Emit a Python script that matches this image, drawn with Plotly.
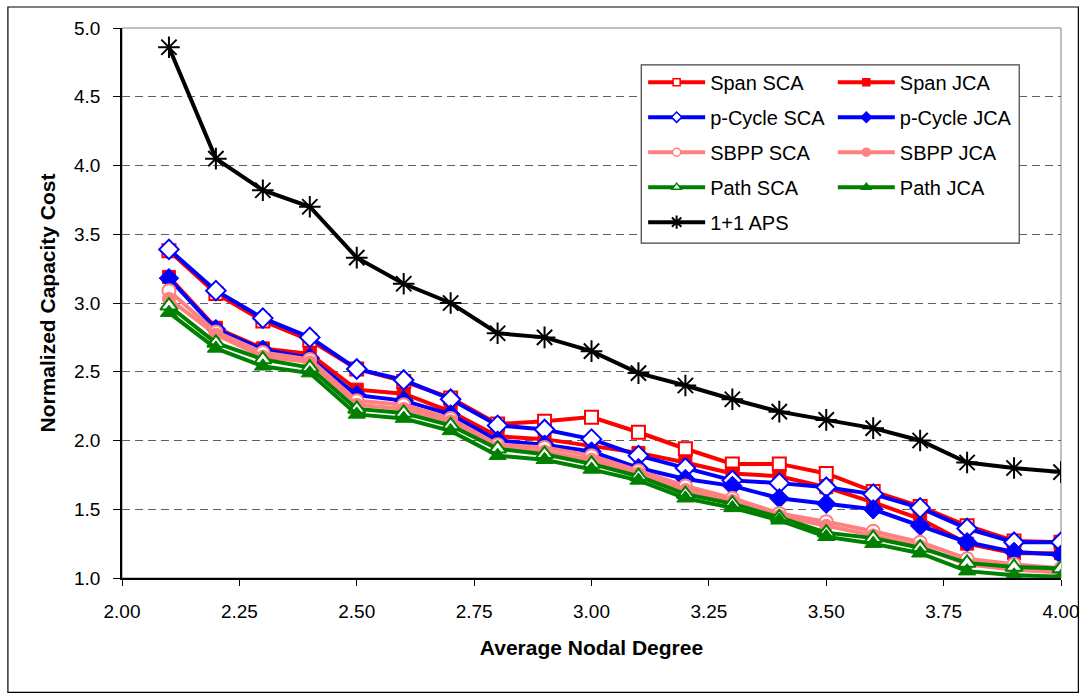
import plotly.graph_objects as go

x_degree = [2.1, 2.2, 2.3, 2.4, 2.5, 2.6, 2.7, 2.8, 2.9, 3.0,
            3.1, 3.2, 3.3, 3.4, 3.5, 3.6, 3.7, 3.8, 3.9, 4.0]

span_sca = [3.38, 3.07, 2.87, 2.73, 2.52, 2.43, 2.31, 2.12, 2.14, 2.17,
            2.06, 1.94, 1.83, 1.83, 1.76, 1.63, 1.52, 1.38, 1.27, 1.26]
span_jca = [3.19, 2.82, 2.67, 2.63, 2.37, 2.34, 2.21, 2.03, 2.01, 1.96,
            1.91, 1.84, 1.76, 1.74, 1.66, 1.55, 1.43, 1.25, 1.18, 1.18]
pcycle_sca = [3.39, 3.09, 2.89, 2.75, 2.52, 2.44, 2.30, 2.11, 2.08, 2.01,
              1.89, 1.80, 1.71, 1.69, 1.66, 1.61, 1.51, 1.36, 1.26, 1.26]
pcycle_jca = [3.18, 2.81, 2.66, 2.60, 2.33, 2.29, 2.19, 2.00, 1.97, 1.92,
              1.80, 1.72, 1.67, 1.58, 1.54, 1.50, 1.38, 1.26, 1.19, 1.17]
sbpp_sca = [3.09, 2.79, 2.64, 2.59, 2.29, 2.26, 2.16, 1.97, 1.95, 1.89,
            1.78, 1.67, 1.58, 1.47, 1.41, 1.34, 1.26, 1.14, 1.10, 1.07]
sbpp_jca = [3.03, 2.77, 2.61, 2.57, 2.26, 2.23, 2.14, 1.95, 1.92, 1.86,
            1.76, 1.64, 1.56, 1.45, 1.38, 1.31, 1.23, 1.10, 1.06, 1.04]
path_sca = [2.98, 2.71, 2.59, 2.53, 2.23, 2.20, 2.11, 1.94, 1.90, 1.83,
            1.74, 1.61, 1.54, 1.44, 1.33, 1.29, 1.22, 1.11, 1.08, 1.07]
path_jca = [2.93, 2.67, 2.54, 2.49, 2.19, 2.16, 2.07, 1.89, 1.86, 1.79,
            1.71, 1.58, 1.51, 1.42, 1.30, 1.25, 1.18, 1.05, 1.02, 1.01]
aps = [4.86, 4.05, 3.82, 3.70, 3.33, 3.14, 3.00, 2.78, 2.75, 2.65,
       2.49, 2.40, 2.30, 2.21, 2.15, 2.09, 2.00, 1.84, 1.80, 1.77]

x_ticks = [2.00, 2.25, 2.50, 2.75, 3.00, 3.25, 3.50, 3.75, 4.00]
y_ticks = [1.0, 1.5, 2.0, 2.5, 3.0, 3.5, 4.0, 4.5, 5.0]

RED = "#FF0000"
BLUE = "#0000FF"
SALMON = "#FF8080"
GREEN = "#008000"
BLACK = "#000000"

# name, values, colour, symbol, filled, legend column
series = [
    ("Span SCA", span_sca, RED, "square", False, "legend"),
    ("Span JCA", span_jca, RED, "square", True, "legend2"),
    ("p-Cycle SCA", pcycle_sca, BLUE, "diamond", False, "legend"),
    ("p-Cycle JCA", pcycle_jca, BLUE, "diamond", True, "legend2"),
    ("SBPP SCA", sbpp_sca, SALMON, "circle", False, "legend"),
    ("SBPP JCA", sbpp_jca, SALMON, "circle", True, "legend2"),
    ("Path SCA", path_sca, GREEN, "triangle-up", False, "legend"),
    ("Path JCA", path_jca, GREEN, "triangle-up", True, "legend2"),
]

sizes = {"square": 13, "diamond": 15, "circle": 13, "triangle-up": 15}
leg_sizes = {"square": 7, "diamond": 8, "circle": 8, "triangle-up": 8}

fig = go.Figure()

for name, vals, col, sym, filled, leg in series:
    fig.add_trace(go.Scatter(
        x=x_degree, y=vals, mode="lines+markers", name=name,
        line=dict(color=col, width=4),
        marker=dict(symbol=sym, size=sizes[sym],
                    color=col if filled else "white",
                    line=dict(color=col, width=2 if not filled else 1)),
        showlegend=False,
    ))

fig.add_trace(go.Scatter(
    x=x_degree, y=aps, mode="lines+markers", name="1+1 APS",
    line=dict(color=BLACK, width=4),
    marker=dict(symbol="asterisk-open", size=18, color=BLACK,
                line=dict(color=BLACK, width=2)),
    showlegend=False,
))

# legend entries
leg_entries = [s for s in series if s[5] == "legend"] + \
              [("1+1 APS", aps, BLACK, "asterisk-open", True, "legend")] + \
              [s for s in series if s[5] == "legend2"]
for i, (name, vals, col, sym, filled, leg) in enumerate(leg_entries):
    if sym == "asterisk-open":
        mk = dict(symbol=sym, size=11, color=BLACK, line=dict(color=BLACK, width=2))
    else:
        mk = dict(symbol=sym, size=leg_sizes[sym],
                  color=col if filled else "white",
                  line=dict(color=col, width=1.5))
    fig.add_trace(go.Scatter(
        x=[None], y=[None], mode="lines+markers", name=name,
        line=dict(color=col, width=4), marker=mk,
        legend=leg, legendgroup="g%d" % i, showlegend=True,
    ))

FONT = "Liberation Sans, Arial, sans-serif"

fig.update_layout(
    width=1091, height=693,
    margin=dict(l=122, r=22, t=28, b=115),
    paper_bgcolor="white", plot_bgcolor="white",
    font=dict(family=FONT, size=19, color="black"),
    xaxis=dict(
        range=[2.0, 4.0], tickvals=x_ticks, tickformat=".2f",
        showgrid=False, zeroline=False,
        showline=True, linecolor="black", linewidth=1.5,
        ticks="outside", ticklen=6, tickcolor="black",
        tickfont=dict(size=19),
        ticklabelstandoff=9,
        title=dict(text="<b>Average Nodal Degree</b>", font=dict(size=21),
                   standoff=20),
    ),
    yaxis=dict(
        range=[1.0, 5.0], tickvals=y_ticks, tickformat=".1f",
        showgrid=True, gridcolor="#606060", griddash="8px,5px", gridwidth=1,
        zeroline=False,
        showline=True, linecolor="black", linewidth=1.5,
        ticks="outside", ticklen=7, tickcolor="black",
        tickfont=dict(size=19),
        ticklabelstandoff=9,
        title=dict(text="<b>Normalized Capacity Cost</b>", font=dict(size=21),
                   standoff=13),
    ),
    legend=dict(
        x=0.555, y=0.937, xanchor="left", yanchor="top",
        bgcolor="rgba(0,0,0,0)", borderwidth=0,
        font=dict(family=FONT, size=20, color="black"),
        tracegroupgap=6, itemwidth=57, traceorder="grouped",
    ),
    legend2=dict(
        x=0.757, y=0.937, xanchor="left", yanchor="top",
        bgcolor="rgba(0,0,0,0)", borderwidth=0,
        font=dict(family=FONT, size=20, color="black"),
        tracegroupgap=6, itemwidth=57, traceorder="grouped",
    ),
    shapes=[
        # plot-area border (top / right grey)
        dict(type="rect", xref="paper", yref="paper", x0=0, y0=0, x1=1, y1=1,
             line=dict(color="#808080", width=1), layer="below"),
        # legend box
        dict(type="rect", xref="paper", yref="paper",
             x0=0.553, x1=0.9555, y0=0.609, y1=0.933,
             line=dict(color="#404040", width=1.2), fillcolor="white",
             layer="above"),
        # outer chart frame
        dict(type="rect", xref="paper", yref="paper",
             x0=-0.1215, x1=1.0185, y0=-0.2078, y1=1.0382,
             line=dict(color="black", width=1.2)),
    ],
)

fig.write_html("out.html",
               config={"displayModeBar": False},
               post_script="document.body.style.margin='0';"
                           "document.body.style.overflow='hidden';")
